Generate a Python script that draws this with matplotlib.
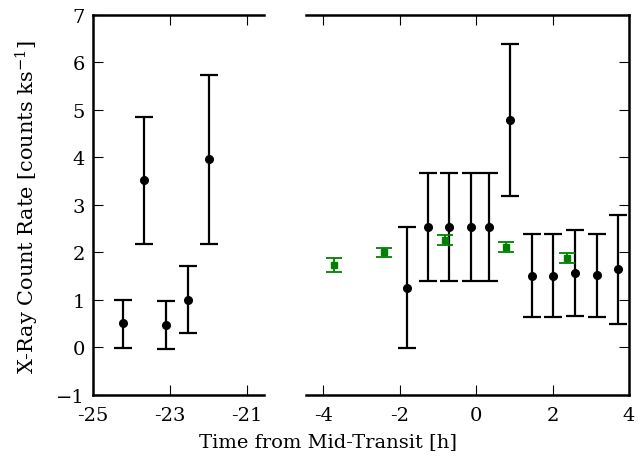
import matplotlib
matplotlib.use("Agg")
import matplotlib.pyplot as plt

plt.rcParams["font.family"] = ["DejaVu Serif"]
plt.rcParams["mathtext.fontset"] = "dejavuserif"

# Early observation window (hours from mid-transit)
early_t = [-24.22, -23.67, -23.10, -22.54, -21.99]
early_rate = [0.51, 3.52, 0.48, 1.00, 3.96]
early_hi = [1.00, 4.85, 0.98, 1.72, 5.73]
early_lo = [-0.01, 2.18, -0.03, 0.30, 2.18]

# Transit window, black series
tr_t = [-1.82, -1.255, -0.70, -0.14, 0.33, 0.89, 1.46, 2.01, 2.58, 3.15, 3.70]
tr_rate = [1.26, 2.53, 2.53, 2.53, 2.53, 4.79, 1.51, 1.51, 1.57, 1.52, 1.64]
tr_hi = [2.54, 3.66, 3.66, 3.66, 3.66, 6.38, 2.38, 2.38, 2.48, 2.39, 2.79]
tr_lo = [-0.01, 1.40, 1.40, 1.40, 1.40, 3.19, 0.63, 0.63, 0.67, 0.65, 0.49]

# Transit window, green series
gr_t = [-3.71, -2.405, -0.82, 0.78, 2.37]
gr_rate = [1.74, 2.00, 2.26, 2.12, 1.89]
gr_hi = [1.89, 2.10, 2.37, 2.22, 1.98]
gr_lo = [1.59, 1.90, 2.15, 2.01, 1.78]

left_ticks = [-25, -23, -21]
left_ticklabels = ["-25", "-23", "-21"]
right_ticks = [-4, -2, 0, 2, 4]
right_ticklabels = ["-4", "-2", "0", "2", "4"]
y_ticks = [-1, 0, 1, 2, 3, 4, 5, 6, 7]


def yerr(rate, hi, lo):
    return [[r - l for r, l in zip(rate, lo)], [h - r for r, h in zip(rate, hi)]]


fig = plt.figure(figsize=(6.44, 4.64), dpi=100)
ax1 = fig.add_axes([0.1444, 0.1466, 0.2655, 0.8196])
ax2 = fig.add_axes([0.4752, 0.1466, 0.5016, 0.8196])

eb = dict(fmt="o", color="black", ms=5.5, elinewidth=1.6, capsize=6.2, capthick=1.6)
ax1.errorbar(early_t, early_rate, yerr=yerr(early_rate, early_hi, early_lo), **eb)
ax2.errorbar(tr_t, tr_rate, yerr=yerr(tr_rate, tr_hi, tr_lo), **eb)
ax2.errorbar(gr_t, gr_rate, yerr=yerr(gr_rate, gr_hi, gr_lo), fmt="s", color="green",
             ms=4.5, elinewidth=1.3, capsize=6, capthick=1.3)

ax1.set_xlim(-25, -20.55)
ax2.set_xlim(-4.45, 4)
for ax in (ax1, ax2):
    ax.set_ylim(-1, 7)
    ax.set_yticks(y_ticks)
    for s in ax.spines.values():
        s.set_linewidth(1.8)
    ax.tick_params(direction="in", length=7, width=0.8, labelsize=14,
                   top=True, bottom=True, pad=6)
    ax.tick_params(axis="x", pad=8)

ax1.set_xticks(left_ticks)
ax1.set_xticklabels(left_ticklabels)
ax2.set_xticks(right_ticks)
ax2.set_xticklabels(right_ticklabels)

ax1.spines["right"].set_visible(False)
ax2.spines["left"].set_visible(False)
ax1.tick_params(left=True, right=False)
ax2.tick_params(left=False, right=True, labelleft=False)

fig.text(0.509, 0.048, "Time from Mid-Transit [h]", ha="center", va="center", fontsize=14)
fig.text(0.042, 0.554, r"X-Ray Count Rate [counts ks$^{-1}$]", ha="center", va="center",
         rotation=90, fontsize=15)

fig.savefig("out.png", dpi=100)
